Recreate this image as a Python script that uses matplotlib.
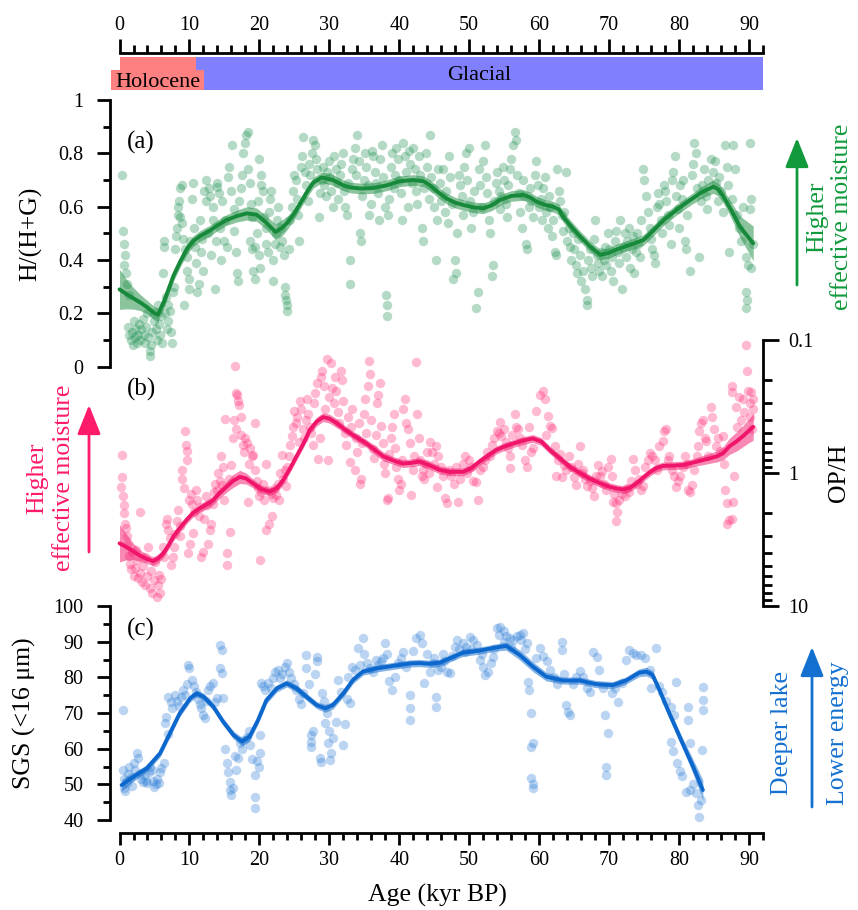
import numpy as np
import matplotlib
matplotlib.use("Agg")
import matplotlib.pyplot as plt
from matplotlib.ticker import MultipleLocator, FixedLocator, FixedFormatter, LogLocator, NullFormatter
from matplotlib.patches import FancyArrowPatch

plt.rcParams['font.family'] = ['Liberation Serif', 'DejaVu Serif']

# ---------------- data ----------------
periods = ['Holocene', 'Glacial']
period_start = [0, 11]
period_end = [11, 92]

# (a) H/(H+G)
a_pts = [
    (0.4,0.72),(0.5,0.51),(0.6,0.46),(0.8,0.42),(0.7,0.38),(0.9,0.35),(1.1,0.31),(1.3,0.27),(1.2,0.15),(1.4,0.12),
    (1.6,0.1),(1.8,0.13),(1.9,0.08),(2.0,0.17),(2.2,0.11),(2.3,0.14),(2.5,0.09),(2.6,0.12),(2.8,0.16),(3.0,0.1),
    (3.1,0.14),(3.3,0.18),(3.5,0.12),(3.6,0.09),(3.8,0.15),(4.0,0.2),(4.1,0.11),(4.3,0.06),(4.4,0.04),(4.5,0.08),
    (4.7,0.13),(4.9,0.17),(5.0,0.2),(5.2,0.14),(5.3,0.1),(5.5,0.23),(5.6,0.16),(5.8,0.12),(6.0,0.19),(6.1,0.09),
    (6.2,0.35),(6.3,0.47),(6.4,0.45),(6.5,0.2),(6.6,0.26),(6.8,0.14),(6.9,0.23),(7.0,0.17),(7.2,0.21),(7.4,0.13),
    (7.5,0.09),(7.6,0.28),(7.8,0.3),(8.0,0.44),(8.1,0.49),(8.2,0.52),(8.3,0.57),(8.4,0.6),(8.5,0.62),(8.6,0.56),
    (8.7,0.67),(8.9,0.68),(9.0,0.54),(9.1,0.48),(9.2,0.23),(9.4,0.44),(9.6,0.41),(9.7,0.36),(9.9,0.33),(10.0,0.29),
    (10.1,0.47),(10.3,0.63),(10.5,0.69),(10.6,0.52),(10.8,0.45),(11.0,0.39),(11.1,0.28),(11.3,0.31),(11.5,0.55),(11.6,0.43),
    (11.8,0.48),(11.9,0.36),(12.1,0.66),(12.3,0.62),(12.4,0.7),(12.6,0.5),(12.8,0.67),(12.9,0.64),(13.1,0.42),(13.3,0.55),
    (13.4,0.6),(13.6,0.29),(13.8,0.47),(13.9,0.675),(14.0,0.69),(14.2,0.65),(14.4,0.52),(14.5,0.4),(14.7,0.62),(14.9,0.47),
    (15.1,0.55),(15.3,0.45),(15.5,0.71),(15.7,0.75),(15.9,0.66),(16.1,0.83),(16.3,0.59),(16.4,0.51),(16.6,0.43),(16.8,0.35),
    (16.9,0.32),(17.1,0.62),(17.3,0.67),(17.5,0.72),(17.7,0.8),(17.9,0.84),(18.1,0.87),(18.3,0.88),(18.4,0.74),(18.6,0.69),
    (18.6,0.47),(18.8,0.61),(18.9,0.56),(19.0,0.44),(19.1,0.36),(19.3,0.33),(19.4,0.45),(19.6,0.5),(19.8,0.62),(19.9,0.42),
    (20.0,0.78),(20.1,0.37),(20.2,0.72),(20.3,0.68),(20.5,0.66),(20.7,0.56),(20.9,0.52),(21.0,0.46),(21.2,0.43),(21.4,0.58),
    (21.5,0.63),(21.7,0.66),(21.9,0.32),(22.0,0.4),(22.2,0.46),(22.4,0.5),(22.5,0.55),(22.7,0.6),(22.9,0.45),(23.1,0.52),
    (23.3,0.47),(23.5,0.42),(23.6,0.3),(23.7,0.27),(23.8,0.25),(23.9,0.23),(24.0,0.21),(24.2,0.44),(24.4,0.55),(24.6,0.6),
    (24.8,0.66),(25.0,0.72),(25.2,0.7),(25.4,0.63),(25.5,0.57),(25.7,0.47),(25.9,0.75),(26.1,0.79),(26.3,0.86),(26.5,0.73),
    (26.7,0.68),(26.9,0.62),(27.1,0.76),(27.3,0.72),(27.5,0.8),(27.7,0.85),(27.9,0.83),(28.1,0.78),(28.3,0.74),(28.5,0.56),
    (28.7,0.65),(28.9,0.7),(29.1,0.75),(29.3,0.68),(29.5,0.64),(29.7,0.73),(29.9,0.77),(30.1,0.71),(30.3,0.66),(30.5,0.6),
    (30.7,0.79),(30.9,0.74),(31.1,0.69),(31.3,0.63),(31.5,0.72),(31.7,0.76),(31.9,0.8),(32.1,0.66),(32.3,0.6),(32.5,0.57),
    (32.7,0.69),(32.9,0.4),(33.0,0.31),(33.2,0.74),(33.4,0.78),(33.6,0.82),(33.8,0.72),(34.0,0.87),(34.2,0.77),(34.4,0.5),
    (34.5,0.47),(34.7,0.64),(34.9,0.7),(35.1,0.8),(35.3,0.75),(35.5,0.68),(35.7,0.57),(35.9,0.61),(36.1,0.81),(36.3,0.79),
    (36.5,0.73),(36.7,0.69),(36.9,0.65),(37.1,0.55),(37.3,0.78),(37.5,0.83),(37.7,0.71),(37.9,0.6),(38.1,0.27),(38.2,0.23),
    (38.2,0.19),(38.4,0.57),(38.6,0.63),(38.8,0.75),(39.0,0.8),(39.2,0.67),(39.4,0.72),(39.6,0.82),(39.8,0.78),(40.0,0.7),
    (40.2,0.65),(40.4,0.55),(40.6,0.84),(40.8,0.79),(41.0,0.73),(41.2,0.6),(41.4,0.81),(41.6,0.76),(41.8,0.69),(42.0,0.82),
    (42.2,0.74),(42.4,0.66),(42.6,0.61),(42.8,0.79),(43.0,0.72),(43.2,0.52),(43.4,0.47),(43.6,0.67),(43.8,0.8),(44.0,0.75),
    (44.2,0.63),(44.4,0.87),(44.6,0.71),(44.8,0.67),(45.0,0.6),(45.2,0.4),(45.4,0.55),(45.6,0.74),(45.8,0.69),(46.0,0.62),
    (46.3,0.74),(46.5,0.58),(46.7,0.66),(46.9,0.54),(47.1,0.79),(47.3,0.71),(47.5,0.61),(47.7,0.33),(47.9,0.4),(48.1,0.35),
    (48.3,0.5),(48.5,0.72),(48.7,0.68),(48.9,0.64),(49.1,0.57),(49.3,0.75),(49.5,0.8),(49.7,0.7),(49.9,0.82),(50.1,0.62),
    (50.3,0.52),(50.5,0.58),(50.7,0.66),(51.0,0.22),(51.2,0.28),(51.4,0.74),(51.6,0.68),(51.8,0.6),(52.0,0.77),(52.2,0.83),
    (52.4,0.71),(52.6,0.65),(52.8,0.55),(53.0,0.5),(53.2,0.34),(53.4,0.38),(53.6,0.62),(53.8,0.69),(54.0,0.73),(54.2,0.66),
    (54.4,0.59),(54.6,0.64),(54.8,0.75),(55.0,0.7),(55.2,0.61),(55.4,0.56),(55.6,0.68),(55.8,0.74),(56.0,0.78),(56.3,0.83),
    (56.5,0.88),(56.7,0.85),(56.9,0.72),(57.1,0.65),(57.3,0.58),(57.5,0.52),(57.7,0.7),(57.9,0.64),(58.1,0.46),(58.3,0.44),
    (58.5,0.6),(58.7,0.67),(58.9,0.62),(59.1,0.56),(59.4,0.72),(59.6,0.77),(59.8,0.68),(60.0,0.6),(60.2,0.63),(60.4,0.55),
    (60.6,0.67),(60.8,0.71),(61.0,0.58),(61.2,0.52),(61.4,0.64),(61.6,0.6),(61.8,0.49),(62.0,0.55),(62.2,0.43),(62.4,0.42),
    (62.6,0.74),(62.8,0.66),(63.0,0.62),(63.2,0.57),(63.4,0.51),(63.6,0.58),(63.8,0.73),(64.0,0.47),(64.2,0.52),(64.4,0.45),
    (64.6,0.4),(64.8,0.5),(65.0,0.44),(65.2,0.38),(65.4,0.35),(65.6,0.48),(65.8,0.42),(66.0,0.32),(66.2,0.36),(66.5,0.29),
    (66.8,0.25),(66.8,0.23),(67.0,0.4),(67.2,0.44),(67.4,0.37),(67.6,0.34),(67.8,0.48),(68.0,0.55),(68.2,0.42),(68.4,0.39),
    (68.6,0.36),(68.8,0.43),(69.0,0.34),(69.2,0.4),(69.4,0.45),(69.6,0.38),(69.8,0.5),(70.0,0.44),(70.2,0.36),(70.4,0.41),
    (70.6,0.32),(70.8,0.47),(71.0,0.51),(71.2,0.43),(71.4,0.39),(71.6,0.55),(71.8,0.29),(72.0,0.45),(72.2,0.5),(72.4,0.41),
    (72.6,0.47),(72.8,0.52),(73.0,0.37),(73.2,0.44),(73.4,0.49),(73.6,0.35),(73.8,0.43),(74.0,0.5),(74.2,0.46),(74.4,0.41),
    (74.6,0.55),(74.8,0.74),(75.0,0.7),(75.3,0.64),(75.5,0.58),(75.8,0.52),(76.0,0.48),(76.2,0.44),(76.4,0.42),(76.6,0.39),
    (76.8,0.6),(77.0,0.65),(77.2,0.61),(77.4,0.55),(77.6,0.5),(77.8,0.68),(78.0,0.66),(78.2,0.62),(78.4,0.57),(78.6,0.53),
    (78.8,0.46),(79.0,0.7),(79.2,0.73),(79.4,0.79),(79.6,0.64),(79.8,0.59),(80.0,0.52),(80.2,0.68),(80.4,0.63),(80.6,0.7),
    (80.8,0.47),(81.0,0.44),(81.2,0.57),(81.5,0.36),(81.8,0.72),(82.0,0.76),(82.2,0.84),(82.4,0.8),(82.6,0.67),(82.9,0.41),
    (83.1,0.62),(83.3,0.68),(83.5,0.74),(83.8,0.64),(84.0,0.59),(84.2,0.7),(84.5,0.78),(84.8,0.73),(85.1,0.77),(85.3,0.69),
    (85.5,0.62),(85.7,0.71),(86.0,0.66),(86.3,0.58),(86.5,0.83),(86.8,0.75),(87.0,0.68),(87.2,0.43),(87.5,0.63),(87.7,0.83),
    (88.0,0.74),(88.3,0.57),(88.6,0.52),(88.9,0.47),(89.2,0.6),(89.5,0.41),(89.6,0.28),(89.7,0.25),(89.6,0.22),(89.9,0.38),
    (90.1,0.59),(90.1,0.84),(90.3,0.63),(90.3,0.37),(90.5,0.46),
]
a_fit_age = [0, 1, 2, 3, 4, 5, 5.5, 6.3, 7, 7.7, 8.6, 9.6, 10.5, 11.5, 12.9, 14, 15.3, 16.8, 18.2, 19.6,
             21, 22.3, 23.2, 24, 25, 25.8, 26.8, 27.7, 28.9, 30.5, 32, 33, 34.5, 36.3, 38.2, 40, 42, 43.5, 44.4, 45.5,
             46.8, 48, 49.2, 50.5, 52, 53.2, 54.4, 56, 57.7, 58.7, 59.6, 60.8, 62, 62.8, 63.4, 64.6, 65.8, 67.3, 68.7, 69.8,
             71.1, 73, 74.9, 76.3, 77.8, 79.7, 81.6, 83.3, 84.9, 85.6, 86.3, 87.5, 88.7, 90.6]
a_fit = [0.29, 0.272, 0.256, 0.24, 0.222, 0.2, 0.195, 0.24, 0.29, 0.34, 0.39, 0.44, 0.47, 0.49, 0.51, 0.53, 0.55, 0.565, 0.575, 0.57,
         0.54, 0.505, 0.52, 0.54, 0.575, 0.61, 0.655, 0.69, 0.71, 0.70, 0.68, 0.672, 0.668, 0.67, 0.68, 0.695, 0.70, 0.695, 0.68, 0.655,
         0.63, 0.615, 0.606, 0.598, 0.594, 0.605, 0.625, 0.64, 0.644, 0.635, 0.619, 0.607, 0.60, 0.59, 0.5625, 0.525, 0.49, 0.45, 0.42, 0.425,
         0.44, 0.457, 0.475, 0.51, 0.55, 0.59, 0.625, 0.655, 0.675, 0.665, 0.64, 0.585, 0.525, 0.4625]
a_ci = [0.075, 0.055, 0.04, 0.03, 0.025, 0.025, 0.025, 0.025, 0.02, 0.02, 0.02, 0.02, 0.02, 0.02, 0.02, 0.02, 0.02, 0.022, 0.025, 0.025,
        0.025, 0.03, 0.03, 0.025, 0.02, 0.02, 0.02, 0.02, 0.02, 0.02, 0.02, 0.02, 0.02, 0.02, 0.02, 0.02, 0.02, 0.02, 0.02, 0.02,
        0.02, 0.02, 0.02, 0.02, 0.02, 0.02, 0.02, 0.02, 0.02, 0.02, 0.02, 0.02, 0.02, 0.02, 0.02, 0.02, 0.02, 0.02, 0.02, 0.02,
        0.02, 0.02, 0.02, 0.02, 0.02, 0.02, 0.02, 0.022, 0.025, 0.025, 0.025, 0.03, 0.04, 0.065]

# (b) OP/H
b_pts = [
    (0.2,1.27),(0.3,0.73),(0.4,1.07),(0.5,1.5),(0.6,1.75),(0.7,2.0),(0.8,2.4),(0.9,2.6),(1.0,3.0),(1.1,3.5),
    (1.3,4.2),(1.5,4.8),(1.7,5.3),(1.8,3.9),(2.0,6.0),(2.2,5.2),(2.4,3.8),(2.5,4.5),(2.7,6.2),(2.9,1.95),
    (3.0,5.6),(3.2,6.6),(3.4,5.0),(3.6,7.0),(3.7,4.3),(3.9,6.0),(4.1,3.6),(4.3,7.3),(4.5,5.5),(4.7,8.0),
    (4.9,6.4),(5.1,4.7),(5.3,8.5),(5.5,7.0),(5.7,5.8),(5.8,8.0),(6.0,6.3),(6.2,3.6),(6.4,4.25),(6.6,2.4),
    (6.8,2.2),(7.0,2.7),(7.2,3.1),(7.4,4.9),(7.6,4.25),(7.8,3.6),(8.0,2.9),(8.2,2.3),(8.4,1.9),(8.6,3.0),
    (8.7,2.5),(8.9,0.95),(9.0,1.1),(9.2,1.3),(9.4,0.48),(9.5,0.62),(9.6,0.68),(9.7,0.8),(9.8,4.0),(9.9,1.6),
    (10.1,3.4),(10.2,1.45),(10.3,1.7),(10.5,2.85),(10.7,1.95),(10.9,1.35),(11.1,1.6),(11.3,2.1),(11.5,1.8),(11.7,4.25),
    (11.9,3.9),(12.1,2.2),(12.3,1.5),(12.5,1.75),(12.7,3.4),(12.9,2.7),(13.1,2.4),(13.3,1.7),(13.5,1.4),(13.7,1.2),
    (13.9,1.34),(14.1,1.0),(14.3,1.15),(14.5,0.75),(14.6,1.23),(14.8,0.9),(15.0,1.6),(15.1,0.39),(15.3,4.0),(15.4,4.9),
    (15.6,1.1),(15.8,2.8),(16.0,0.87),(16.2,0.55),(16.3,0.4),(16.5,0.158),(16.6,0.47),(16.7,0.25),(16.8,0.26),(17.0,0.29),
    (17.1,0.31),(17.3,0.38),(17.4,0.52),(17.6,0.62),(17.8,0.7),(18.0,0.55),(18.2,0.6),(18.3,1.64),(18.5,0.85),(18.7,0.65),
    (18.9,0.74),(19.1,0.73),(19.3,0.95),(19.4,0.42),(19.6,1.15),(19.8,1.3),(20.0,1.5),(20.1,4.5),(20.3,1.4),(20.5,1.2),
    (20.7,1.6),(20.9,2.7),(21.0,0.85),(21.2,1.35),(21.4,2.4),(21.6,1.45),(21.8,2.1),(22.0,1.55),(22.2,1.3),(22.4,1.46),
    (22.6,1.2),(22.8,1.6),(23.0,1.0),(23.2,0.73),(23.4,1.1),(23.6,0.95),(23.8,1.25),(24.0,0.9),(24.2,0.75),(24.4,0.62),
    (24.6,0.53),(24.8,0.45),(25.0,0.34),(25.2,0.42),(25.4,0.38),(25.6,0.58),(25.8,0.29),(26.0,0.33),(26.2,0.47),(26.4,0.55),
    (26.6,0.4),(26.8,0.28),(27.0,0.36),(27.2,0.45),(27.4,0.5),(27.6,0.62),(27.8,0.3),(28.0,0.25),(28.2,0.21),(28.4,0.78),
    (28.6,0.55),(28.8,0.19),(29.0,0.17),(29.2,0.22),(29.4,0.33),(29.6,0.14),(29.8,0.8),(30.0,0.27),(30.2,0.15),(30.4,0.23),
    (30.6,0.3),(30.8,0.19),(31.0,0.24),(31.2,0.35),(31.4,0.42),(31.6,0.17),(31.8,0.2),(32.0,0.29),(32.2,0.5),(32.4,0.62),
    (32.6,0.38),(32.9,0.82),(33.1,0.45),(33.3,0.33),(33.6,0.95),(33.8,0.55),(34.0,0.7),(34.2,0.42),(34.4,1.2),(34.5,1.1),
    (34.7,0.6),(34.9,0.36),(35.1,0.28),(35.3,0.5),(35.5,0.22),(35.7,0.145),(35.8,0.18),(36.0,0.4),(36.2,0.66),(36.4,0.77),
    (36.6,0.52),(36.8,0.3),(37.0,0.26),(37.2,0.21),(37.4,0.44),(37.6,0.6),(37.8,0.85),(38.0,1.0),(38.2,1.6),(38.4,1.55),
    (38.6,0.72),(38.8,0.55),(39.0,0.45),(39.2,0.36),(39.4,0.65),(39.6,0.9),(39.8,1.1),(40.0,1.34),(40.2,1.2),(40.4,0.8),
    (40.6,0.33),(40.8,0.28),(41.0,0.42),(41.2,0.47),(41.5,0.6),(41.7,1.46),(41.9,0.95),(42.1,0.75),(42.4,0.147),(42.6,0.36),
    (42.8,0.55),(43.0,0.8),(43.2,1.05),(43.4,0.95),(43.6,1.1),(43.8,0.85),(44.0,0.7),(44.2,1.0),(44.4,0.58),(44.7,0.7),
    (45.0,0.85),(45.3,0.63),(45.4,1.27),(45.6,0.75),(45.9,0.9),(46.2,1.05),(46.6,1.55),(46.8,1.69),(47.1,0.95),(47.4,1.06),
    (47.8,1.2),(48.1,0.9),(48.4,1.64),(48.7,1.1),(49.1,0.85),(49.4,0.75),(49.7,1.0),(50.0,0.8),(50.3,0.9),(50.6,1.15),
    (51.0,1.16),(51.3,1.6),(51.6,0.95),(52.0,0.9),(52.3,0.8),(52.6,0.7),(53.0,0.75),(53.3,0.62),(53.6,0.55),(53.9,0.48),
    (54.2,0.5),(54.4,0.41),(54.6,0.53),(54.9,0.47),(55.2,0.58),(55.5,0.65),(55.8,0.75),(55.8,0.92),(56.1,0.52),(56.5,0.36),
    (56.7,0.45),(57.0,0.47),(57.3,0.55),(57.6,0.62),(58.0,0.8),(58.2,0.9),(58.6,0.45),(58.9,0.7),(59.1,0.65),(59.6,0.34),
    (60.1,0.26),(60.6,0.24),(60.8,0.28),(61.0,0.52),(61.3,0.37),(61.5,0.44),(61.8,0.46),(62.2,0.63),(62.4,1.06),(62.7,0.8),
    (63.0,0.72),(63.2,1.07),(63.5,0.87),(63.8,0.95),(64.3,0.75),(64.6,0.9),(65.0,1.07),(65.2,1.23),(65.5,0.85),(65.8,0.63),
    (66.1,1.0),(66.3,0.95),(66.6,1.1),(66.9,1.25),(67.2,1.15),(67.5,1.3),(67.9,1.5),(68.1,1.05),(68.4,0.87),(68.7,1.06),
    (69.0,0.97),(69.3,1.2),(69.6,1.35),(69.8,0.9),(70.3,0.78),(70.4,1.06),(70.5,1.64),(70.7,1.45),(71.0,1.69),(71.1,1.95),
    (71.0,2.3),(71.4,1.6),(71.8,1.45),(72.2,1.5),(72.5,1.3),(72.9,1.4),(73.1,1.15),(73.4,0.78),(73.7,0.95),(74.0,1.2),
    (74.3,1.1),(74.5,1.34),(74.8,1.25),(75.1,0.9),(75.5,0.8),(75.8,0.71),(76.1,0.75),(76.5,0.8),(76.8,0.95),(77.2,0.63),
    (77.7,0.57),(77.9,0.48),(78.1,0.47),(78.4,0.8),(78.6,0.75),(79.0,0.95),(79.3,1.06),(79.6,1.27),(79.9,1.15),(80.2,1.06),
    (80.5,0.9),(80.8,0.75),(81.1,0.85),(81.3,1.34),(81.6,1.4),(81.9,1.23),(82.2,0.95),(82.5,0.75),(82.7,0.63),(82.9,0.48),
    (83.2,0.42),(83.4,0.4),(83.7,0.55),(83.9,0.57),(84.2,0.75),(84.6,0.32),(84.7,0.38),(85.0,0.47),(85.3,0.63),(85.6,0.55),
    (85.9,0.68),(86.3,0.53),(86.4,0.85),(86.5,1.34),(86.8,1.69),(86.8,2.4),(87.2,2.25),(87.6,2.2),(87.7,1.64),(87.8,1.06),
    (87.5,0.22),(87.6,0.245),(88.1,0.32),(88.3,0.45),(88.6,0.27),(88.8,0.4),(89.1,0.28),(89.3,0.35),(89.6,0.109),(89.7,0.17),
    (89.9,0.24),(90.1,0.3),(90.3,0.245),(90.2,0.38),(90.4,0.47),(90.5,0.33),(90.6,0.28),
]
b_fit_age = [0, 1, 2, 3, 4, 4.8, 5.5, 6.3, 7, 7.7, 8.6, 9.6, 10.5, 11.5, 12.5, 13.4, 14.3, 15.3, 16.2, 17.2,
             18.1, 19.1, 20.2, 21.5, 22.5, 23.4, 24.4, 25.3, 26.3, 27.2, 28.2, 29.1, 30, 31, 32.2, 33.4, 34.4, 35.3, 36.5, 37.7,
             39, 40.5, 41.7, 42.9, 44.4, 45.8, 47.2, 49.1, 50.3, 51.5, 52.7, 53.9, 55.1, 56.3, 57.7, 59.1, 60.3, 61.5, 63, 64.4,
             65.8, 67.2, 68.6, 70.1, 71.1, 72, 73, 73.9, 74.9, 75.8, 76.7, 77.7, 79.2, 80.6, 81.8, 83, 84.2, 85.4, 86.3, 87.2,
             88.2, 89.1, 90, 90.6]
b_fit = [3.38, 3.6, 3.9, 4.2, 4.45, 4.6, 4.4, 4.0, 3.5, 3.0, 2.6, 2.25, 2.0, 1.84, 1.72, 1.6, 1.42, 1.27, 1.15, 1.07,
         1.1, 1.2, 1.32, 1.38, 1.3, 1.13, 0.92, 0.75, 0.6, 0.475, 0.41, 0.38, 0.39, 0.42, 0.47, 0.52, 0.56, 0.6, 0.67, 0.75,
         0.8, 0.85, 0.84, 0.82, 0.88, 0.95, 0.98, 0.98, 0.92, 0.82, 0.74, 0.67, 0.63, 0.6, 0.57, 0.55, 0.58, 0.67, 0.78, 0.9,
         1.0, 1.1, 1.19, 1.27, 1.31, 1.33, 1.29, 1.2, 1.08, 0.99, 0.92, 0.885, 0.88, 0.87, 0.84, 0.81, 0.78, 0.75, 0.71, 0.63,
         0.58, 0.53, 0.48, 0.45]
b_ci = [1.38, 1.25, 1.15, 1.1, 1.08, 1.08, 1.08, 1.08, 1.07, 1.07, 1.07, 1.07, 1.07, 1.07, 1.08, 1.08, 1.09, 1.1, 1.12, 1.12,
        1.1, 1.08, 1.07, 1.07, 1.07, 1.07, 1.07, 1.07, 1.07, 1.07, 1.08, 1.08, 1.08, 1.08, 1.07, 1.07, 1.07, 1.07, 1.08, 1.08,
        1.07, 1.07, 1.07, 1.07, 1.07, 1.07, 1.07, 1.07, 1.07, 1.07, 1.07, 1.07, 1.07, 1.07, 1.07, 1.07, 1.07, 1.07, 1.07, 1.07,
        1.07, 1.07, 1.07, 1.07, 1.07, 1.07, 1.07, 1.07, 1.07, 1.07, 1.07, 1.07, 1.07, 1.07, 1.07, 1.08, 1.09, 1.1, 1.12, 1.15,
        1.18, 1.2, 1.23, 1.26]

# (c) SGS (<16 um)
c_pts = [
    (0.5,70.8),(0.5,54),(0.6,51.5),(0.7,49),(0.8,48),(1.0,50.5),(1.2,53),(1.4,55),(1.6,52),(1.8,49.5),
    (2.0,55.9),(2.2,54),(2.5,58.7),(2.7,57.5),(2.9,53),(3.1,51.5),(3.4,50.6),(3.6,52.5),(3.8,51),(4.0,50.5),
    (4.2,53.5),(4.4,55),(4.6,54),(4.8,51),(5.0,49.3),(5.2,50.2),(5.4,51.5),(5.6,50.5),(5.8,53.5),(6.0,54.5),
    (6.3,55.9),(6.5,67.1),(6.7,69),(6.9,64),(7.0,74.6),(7.3,73),(7.5,71.5),(7.9,75),(8.2,73.5),(8.5,72),
    (8.8,74.5),(9.1,76.4),(9.3,75),(9.6,78),(9.8,83.5),(10.0,82.5),(10.3,79.3),(10.6,77.5),(10.9,76),(11.2,74),
    (11.5,72.5),(11.7,71.3),(11.9,69.5),(12.2,68.5),(12.4,73.5),(12.7,76.5),(13.0,77.5),(13.4,78.3),(13.7,73),(14.0,74.3),
    (14.3,82.5),(14.4,89.1),(14.6,87.7),(14.6,81.1),(14.8,74.1),(15.1,60),(15.3,55.9),(15.5,53.5),(15.8,50.7),(15.8,48.4),
    (16.0,47),(16.2,49),(16.5,58),(16.7,54),(16.9,57.5),(17.2,61.5),(17.5,60),(17.8,62.5),(18.2,63.4),(18.5,65),
    (18.7,61),(19.0,57),(19.4,52.6),(19.4,46.5),(19.4,43.3),(19.7,56.5),(19.9,55),(20.1,63.8),(20.1,58.7),(20.3,78.3),
    (20.5,77.5),(20.8,76.5),(21.3,78.3),(21.6,77),(22.0,79.7),(22.3,81.5),(22.6,82),(23.0,79.7),(23.3,81),(23.6,83),
    (23.9,84),(24.2,81.5),(24.5,79.7),(24.9,78),(25.3,76.5),(25.6,74),(25.9,72.5),(26.3,75.5),(26.7,82.5),(26.7,86.3),
    (27.1,78),(27.4,63.8),(27.4,62),(27.4,60.6),(27.6,65),(28.0,81),(28.3,85.8),(28.3,84.5),(28.6,57.3),(28.8,56.3),
    (29.0,75.5),(29.2,73.5),(29.4,67.1),(29.6,70),(29.8,61.5),(29.9,65),(30.1,56.8),(30.3,58.7),(30.5,63),(31.0,67.6),
    (31.3,79.3),(31.6,76),(32.0,61),(32.2,67),(32.5,74),(32.7,80.2),(32.9,72.7),(33.3,83),(33.7,82),(34.1,88.1),
    (34.4,83.5),(34.8,90.9),(35.0,86.5),(35.4,84),(35.8,82.5),(36.2,81.5),(36.6,85),(37.0,83.5),(37.4,84.5),(37.7,85.5),
    (38.0,89.5),(38.2,86.5),(38.6,79),(39.0,76.5),(39.4,80),(39.8,84),(40.2,85.5),(40.6,87),(41.0,83),(41.5,75),
    (41.5,71.3),(41.5,68),(41.9,87.5),(42.4,90.9),(42.9,91.9),(43.2,89.5),(43.6,78.3),(44.0,86.5),(44.4,81.6),(44.8,84),
    (45.0,85.5),(45.3,74.6),(45.3,71.8),(45.6,82),(46.0,83),(46.2,86.5),(46.4,84.5),(46.8,81.5),(47.2,81.1),(47.6,86),
    (47.9,88.5),(48.2,90.5),(48.6,88),(49.1,89.5),(49.4,87),(49.6,88.5),(50.1,91.4),(50.3,88),(50.6,90.5),(51.1,89),
    (51.5,84.9),(51.8,86.5),(52.0,83),(52.2,80.7),(52.7,81.5),(53.1,84),(53.4,85.8),(53.6,88),(53.9,93.7),(54.2,92),
    (54.4,94),(54.9,93),(55.0,90),(55.3,91.5),(55.8,91),(56.0,88.5),(56.3,90.5),(56.8,91.5),(57.2,92),(57.4,90.5),
    (57.7,92.3),(58.0,88),(58.2,89.5),(58.4,78.8),(58.6,76.4),(58.8,69.9),(58.8,60.6),(59.1,61.5),(58.8,51.7),(59.1,50.2),
    (59.1,48.9),(59.6,85.4),(60.1,88.1),(60.6,86),(61.1,84.5),(61.6,82),(62.1,80),(62.6,78),(63.2,90),(63.2,87.7),
    (63.5,81),(63.9,72.2),(64.1,70.3),(64.4,69.5),(64.8,78),(65.2,80),(65.8,81.8),(66.3,80),(66.8,77),(67.3,76),
    (67.7,87.2),(68.2,85.8),(68.6,82),(69.1,77),(69.4,69.4),(69.9,64.3),(69.5,55),(69.5,52.6),(70.4,75.5),(70.8,77),
    (71.3,73),(71.8,78.5),(72.4,84.9),(72.9,87.7),(73.4,86.8),(73.9,86.3),(74.6,86.3),(75.1,85.3),(75.8,82),(76.0,77),
    (76.7,88.1),(77.2,77.5),(77.6,76),(78.1,73.5),(78.9,71.8),(79.3,69.5),(79.6,78.8),(78.9,62),(79.2,59.3),(79.7,56),
    (80.2,53.8),(80.4,52.3),(81.3,71.8),(81.3,68),(81.5,61.5),(81.0,47.9),(81.5,48.5),(82.0,50),(82.4,47.5),(82.7,44.2),
    (82.8,40.9),(83.1,45.5),(83.4,77.4),(83.4,73.6),(83.4,70.8),(83.3,59.6),
]
c_fit_age = [0.3, 2, 3.9, 5.8, 7.2, 8.6, 10.1, 11, 12, 13.4, 14.8, 16.3, 17.5, 18.6, 19.8, 21, 22.5, 23.9, 25.3, 26.7,
             28.2, 29.4, 30.5, 32, 33.4, 34.8, 36.7, 39.1, 41.5, 42.9, 44.4, 45.8, 47.2, 49.1, 51.5, 53.9, 55.3, 57.2, 59.1, 61,
             63.4, 65.8, 68.1, 70.5, 72.4, 74.3, 75.3, 76.2, 77.2, 78.6, 80.5, 82, 83.4]
c_fit = [49.8, 52.1, 54.5, 58.7, 64.3, 69.9, 74.1, 75.5, 74.6, 71.8, 67.6, 63.8, 62, 63.4, 68, 73.6, 76.9, 78.3, 76.9, 74.6,
         72.2, 71.3, 72.2, 75.5, 79.3, 81.6, 82.5, 83.2, 83.9, 84.0, 83.8, 84.1, 85.3, 86.9, 87.5, 88.4, 88.8, 86.3, 83, 80.2,
         79.1, 79.1, 78.1, 77.8, 79.1, 81.3, 81.6, 80.7, 76.4, 69.9, 61.5, 55, 48.4]
c_ci = [1.6, 1.2, 1.0, 1.0, 1.0, 1.0, 1.0, 1.0, 1.0, 1.0, 1.0, 1.1, 1.2, 1.2, 1.1, 1.0, 1.0, 1.0, 1.0, 1.0,
        1.0, 1.1, 1.1, 1.0, 1.0, 1.0, 1.0, 1.0, 1.0, 1.0, 1.0, 1.0, 1.0, 1.0, 1.0, 1.0, 1.2, 1.4, 1.4, 1.2,
        1.0, 1.0, 1.0, 1.0, 1.0, 1.1, 1.2, 1.2, 1.2, 1.3, 1.5, 2.0, 2.8]

GREEN_PT, GREEN_LN, GREEN_TX = '#1d9150', '#16893a', '#109a3c'
PINK_PT, PINK_LN, PINK_TX = '#ff2d78', '#f0146a', '#ff1a6b'
BLUE_PT, BLUE_LN, BLUE_TX = '#2e7fd8', '#0c68cc', '#1470d0'

# ---------------- figure ----------------
W, H = 858, 910
fig = plt.figure(figsize=(W / 100, H / 100), dpi=100)


def box(x0, y0, x1, y1):
    return [x0 / W, 1 - y1 / H, (x1 - x0) / W, (y1 - y0) / H]


def fxy(x, y):
    return x / W, 1 - y / H


XL = (-1.36, 92)
LW = 2.0
TS = 14.5
X0, X1 = 110, 763

# top age scale + periods
ax_t = fig.add_axes(box(X0, 53.3, X1, 90))
ax_t.set_xlim(XL)
ax_t.set_ylim(0, 1)
ax_t.patch.set_alpha(0)
for s in ['left', 'right', 'bottom']:
    ax_t.spines[s].set_visible(False)
ax_t.spines['top'].set_bounds(0, 92)
ax_t.spines['top'].set_linewidth(LW)
ax_t.xaxis.set_ticks_position('top')
ax_t.xaxis.set_label_position('top')
ax_t.set_xticks(range(0, 91, 10))
ax_t.xaxis.set_minor_locator(MultipleLocator(2))
ax_t.tick_params(axis='x', which='major', direction='out', length=10, width=LW, labelsize=TS, pad=3)
ax_t.tick_params(axis='x', which='minor', direction='out', length=5.5, width=LW)
ax_t.set_yticks([])
pcol = ['#ff8080', '#8080ff']
for name, s0, s1, col in zip(periods, period_start, period_end, pcol):
    ax_t.axvspan(s0, s1, ymin=0, ymax=0.907, color=col, lw=0)
ax_t.text(5.43, 0.074, periods[0], ha='center', va='baseline', fontsize=16, clip_on=True,
          bbox=dict(boxstyle='square,pad=0.16', fc=pcol[0], ec='none'))
ax_t.text(51.4, 0.27, periods[1], ha='center', va='baseline', fontsize=16)


def style_left(ax):
    ax.patch.set_alpha(0)
    ax.set_xlim(XL)
    for s in ['top', 'right', 'bottom']:
        ax.spines[s].set_visible(False)
    ax.spines['left'].set_linewidth(LW)
    ax.set_xticks([])
    ax.tick_params(axis='y', which='major', direction='out', length=9.6, width=LW, labelsize=TS, pad=9.5)
    ax.tick_params(axis='y', which='minor', direction='out', length=5, width=LW)


def draw(ax, pts, fit_age, fit, lo, hi, cpt, cln):
    age = [p[0] for p in pts]
    val = [p[1] for p in pts]
    ax.scatter(age, val, s=46, color=cpt, alpha=0.33, lw=0, clip_on=False, zorder=1)
    ax.fill_between(fit_age, lo, hi, color=cln, alpha=0.5, lw=0, zorder=2)
    ax.plot(fit_age, fit, color=cln, lw=2.8, zorder=3, solid_capstyle='round')


# (a)
ax_a = fig.add_axes(box(X0, 100, X1, 366.7))
style_left(ax_a)
ax_a.set_ylim(0, 1)
ax_a.set_yticks([0, 0.2, 0.4, 0.6, 0.8, 1])
ax_a.set_yticklabels(['0', '0.2', '0.4', '0.6', '0.8', '1'])
ax_a.yaxis.set_minor_locator(MultipleLocator(0.1))
a_lo = [f - c for f, c in zip(a_fit, a_ci)]
a_hi = [f + c for f, c in zip(a_fit, a_ci)]
draw(ax_a, a_pts, a_fit_age, a_fit, a_lo, a_hi, GREEN_PT, GREEN_LN)

# (b)
ax_b = fig.add_axes(box(X0, 340, X1, 606))
ax_b.patch.set_alpha(0)
ax_b.set_xlim(XL)
ax_b.set_yscale('log')
ax_b.set_ylim(10, 0.1)
for s in ['top', 'left', 'bottom']:
    ax_b.spines[s].set_visible(False)
ax_b.spines['right'].set_linewidth(LW)
ax_b.set_xticks([])
ax_b.yaxis.tick_right()
ax_b.yaxis.set_major_locator(FixedLocator([0.1, 1, 10]))
ax_b.yaxis.set_major_formatter(FixedFormatter(['0.1', '1', '10']))
ax_b.yaxis.set_minor_locator(LogLocator(base=10, subs=(2, 3, 4, 5, 6, 7, 8, 9)))
ax_b.yaxis.set_minor_formatter(NullFormatter())
ax_b.tick_params(axis='y', which='major', direction='out', length=11.5, width=LW, labelsize=TS, pad=7)
ax_b.tick_params(axis='y', which='minor', direction='out', length=6.5, width=LW)
b_lo = [f / c for f, c in zip(b_fit, b_ci)]
b_hi = [f * c for f, c in zip(b_fit, b_ci)]
draw(ax_b, b_pts, b_fit_age, b_fit, b_lo, b_hi, PINK_PT, PINK_LN)

# (c)
ax_c = fig.add_axes(box(X0, 606, X1, 833))
style_left(ax_c)
ax_c.set_ylim(36.36, 100)
ax_c.spines['left'].set_bounds(40, 100)
ax_c.spines['bottom'].set_visible(True)
ax_c.spines['bottom'].set_linewidth(LW)
ax_c.spines['bottom'].set_bounds(0, 92)
ax_c.set_yticks(range(40, 101, 10))
ax_c.yaxis.set_minor_locator(MultipleLocator(5))
ax_c.set_xticks(range(0, 91, 10))
ax_c.xaxis.set_minor_locator(MultipleLocator(2))
ax_c.tick_params(axis='x', which='major', direction='out', length=8.9, width=LW, labelsize=TS, pad=4)
ax_c.tick_params(axis='x', which='minor', direction='out', length=4.8, width=LW)
c_lo = [f - c for f, c in zip(c_fit, c_ci)]
c_hi = [f + c for f, c in zip(c_fit, c_ci)]
draw(ax_c, c_pts, c_fit_age, c_fit, c_lo, c_hi, BLUE_PT, BLUE_LN)

# labels
LS = 18.5
fig.text(*fxy(141, 142), '(a)', ha='center', va='center', fontsize=18)
fig.text(*fxy(141, 389), '(b)', ha='center', va='center', fontsize=18)
fig.text(*fxy(141, 629), '(c)', ha='center', va='center', fontsize=18)
fig.text(*fxy(31, 234), 'H/(H+G)', rotation=90, ha='center', va='center', fontsize=LS)
fig.text(*fxy(839, 473), 'OP/H', rotation=90, ha='center', va='center', fontsize=LS)
fig.text(*fxy(24, 713), 'SGS (<16 μm)', rotation=90, ha='center', va='center', fontsize=LS)
fig.text(*fxy(437, 895), 'Age (kyr BP)', ha='center', va='center', fontsize=LS)

# interpretation arrows
def arrow(x, y0, y1, col):
    fig.add_artist(FancyArrowPatch(fxy(x, y0), fxy(x, y1), transform=fig.transFigure,
                                   arrowstyle='-|>,head_length=0.9,head_width=0.36', mutation_scale=20,
                                   lw=2.0, color=col, shrinkA=0, shrinkB=0))


arrow(797, 285, 138, GREEN_TX)
fig.text(*fxy(817, 217), 'Higher', rotation=90, ha='center', va='center', fontsize=LS, color=GREEN_TX)
fig.text(*fxy(842, 217), 'effective moisture', rotation=90, ha='center', va='center', fontsize=LS, color=GREEN_TX)

arrow(89, 552, 405, PINK_TX)
fig.text(*fxy(37, 478), 'Higher', rotation=90, ha='center', va='center', fontsize=LS, color=PINK_TX)
fig.text(*fxy(64, 478), 'effective moisture', rotation=90, ha='center', va='center', fontsize=LS, color=PINK_TX)

arrow(812, 807, 647, BLUE_TX)
fig.text(*fxy(782, 733), 'Deeper lake', rotation=90, ha='center', va='center', fontsize=LS, color=BLUE_TX)
fig.text(*fxy(838, 733), 'Lower energy', rotation=90, ha='center', va='center', fontsize=LS, color=BLUE_TX)

fig.savefig('out.png', dpi=100)
